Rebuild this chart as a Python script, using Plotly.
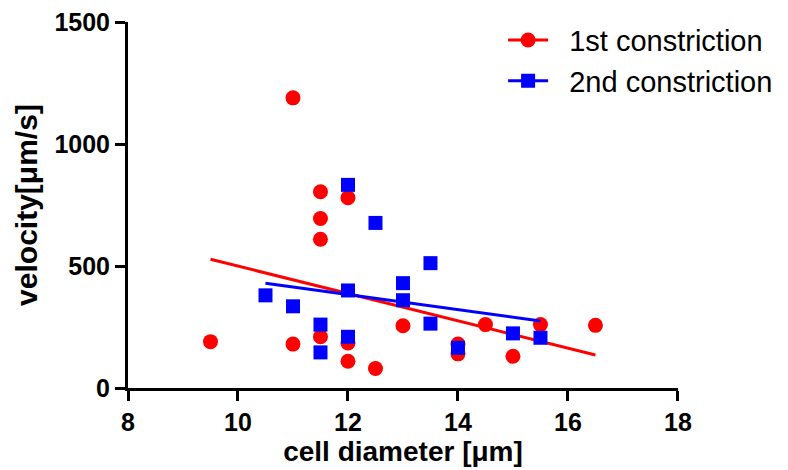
import plotly.graph_objects as go

# 1st constriction (red circles)
red_x = [9.5, 11, 11, 11.5, 11.5, 11.5, 11.5, 12, 12, 12, 12.5, 13, 14, 14, 14.5, 15, 15.5, 16.5]
red_y = [190, 180, 1190, 210, 610, 695, 805, 780, 110, 185, 80, 255, 180, 140, 260, 130, 260, 257]

# 2nd constriction (blue squares)
blue_x = [10.5, 11, 11.5, 11.5, 12, 12, 12, 12.5, 13, 13, 13.5, 13.5, 14, 15, 15.5]
blue_y = [380, 335, 260, 146, 210, 400, 833, 677, 430, 360, 512, 264, 165, 224, 206]

# regression line end points
red_fit_x = [9.5, 16.5]
red_fit_y = [528, 135]
blue_fit_x = [10.5, 15.5]
blue_fit_y = [430, 275]

names = ["1st constriction", "2nd constriction"]
x_ticks = [8, 10, 12, 14, 16, 18]
y_ticks = [0, 500, 1000, 1500]

RED = "#FF0000"
BLUE = "#0000FF"
FONT = "Liberation Sans, Arial, sans-serif"
PAD = "\u00a0\u00a0"

fig = go.Figure()
fig.add_trace(go.Scatter(x=red_x, y=red_y, mode="markers", showlegend=False,
                         marker=dict(symbol="circle", size=15, color=RED)))
fig.add_trace(go.Scatter(x=red_fit_x, y=red_fit_y, mode="lines", showlegend=False,
                         line=dict(color=RED, width=3)))
fig.add_trace(go.Scatter(x=blue_x, y=blue_y, mode="markers", showlegend=False,
                         marker=dict(symbol="square", size=14, color=BLUE)))
fig.add_trace(go.Scatter(x=blue_fit_x, y=blue_fit_y, mode="lines", showlegend=False,
                         line=dict(color=BLUE, width=3)))
# legend entries
fig.add_trace(go.Scatter(x=[None], y=[None], mode="lines+markers", name=PAD + names[0],
                         marker=dict(symbol="circle", size=15, color=RED),
                         line=dict(color=RED, width=3)))
fig.add_trace(go.Scatter(x=[None], y=[None], mode="lines+markers", name=PAD + names[1],
                         marker=dict(symbol="square", size=14, color=BLUE),
                         line=dict(color=BLUE, width=3)))

axis_common = dict(showline=True, linewidth=3, linecolor="black", ticks="outside",
                   ticklen=10, tickwidth=3, tickcolor="black", showgrid=False,
                   zeroline=False, mirror=False, ticklabeloverflow="allow",
                   automargin=False,
                   tickfont=dict(family=FONT, size=25, color="black", weight="bold"))

fig.update_xaxes(range=[8, 18.001], tickvals=x_ticks,
                 title=dict(text="cell diameter [\u03bcm]", standoff=2,
                            font=dict(family=FONT, size=28, color="black", weight="bold")),
                 **axis_common)
fig.update_yaxes(range=[0, 1501], tickvals=y_ticks,
                 title=dict(text="velocity[\u03bcm/s]", standoff=8,
                            font=dict(family=FONT, size=30, color="black", weight="bold")),
                 **axis_common)

fig.update_layout(
    width=788, height=470,
    margin=dict(l=120, r=118, t=14, b=90, autoexpand=False),
    plot_bgcolor="white", paper_bgcolor="white",
    legend=dict(x=0.682, y=1.02, xanchor="left", yanchor="top", itemwidth=40,
                font=dict(family=FONT, size=29, color="black"),
                bgcolor="rgba(0,0,0,0)"),
)

fig.write_html("out.html")
